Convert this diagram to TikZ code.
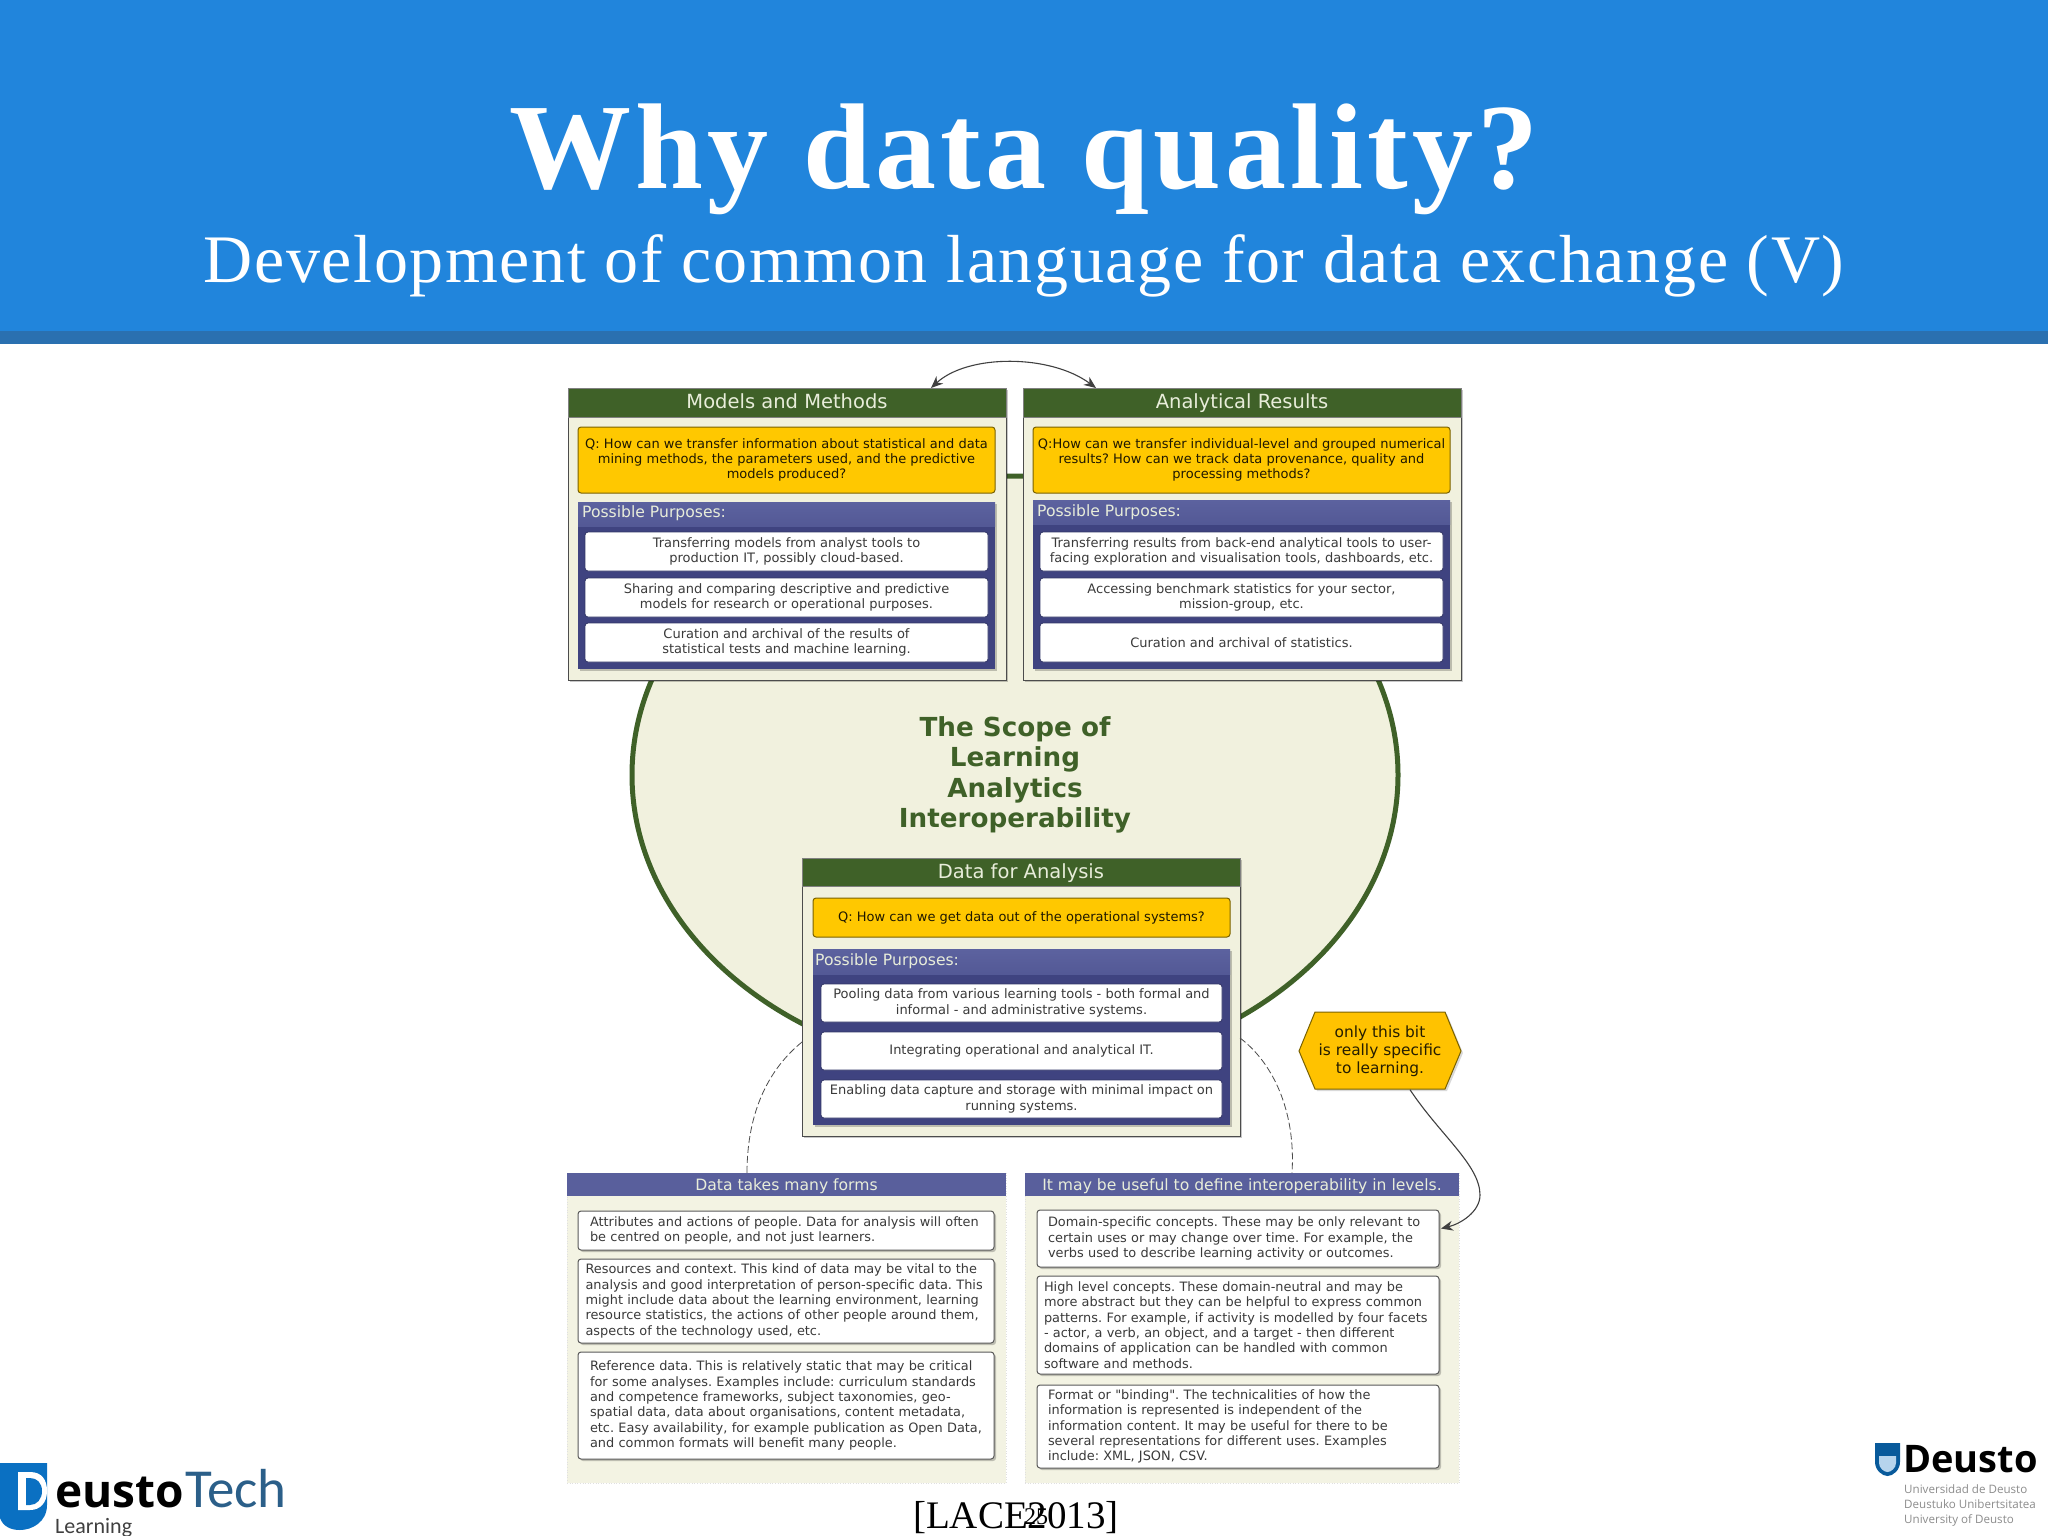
\documentclass[tikz,border=0pt]{standalone}
\usepackage{fontspec}
\setmainfont{Liberation Serif}
\newfontfamily\dv{DejaVu Sans}
\newfontfamily\ttl{Liberation Serif}[LetterSpace=3.5]
\newfontfamily\sbt{Liberation Serif}[LetterSpace=2.4]
\newfontfamily\logo{Open Sans}
\newfontfamily\logoc{Carlito}
\usetikzlibrary{calc,shadows,arrows.meta,shapes.geometric}
\definecolor{band}{HTML}{2185DC}
\definecolor{bandd}{HTML}{2A70B0}
\definecolor{cream}{HTML}{F1F1DE}
\definecolor{leaf}{HTML}{3F6128}
\definecolor{gold}{HTML}{FFC800}
\definecolor{goldd}{HTML}{7A6200}
\definecolor{pur}{HTML}{3F4380}
\definecolor{purl}{HTML}{5C629F}
\definecolor{pale}{HTML}{E8EDDA}
\definecolor{ink}{HTML}{3A3A3A}
\definecolor{lgb}{HTML}{0A70C2}
\tikzset{
 softshadow/.style={drop shadow={shadow xshift=2pt,shadow yshift=-2pt,fill=black,opacity=.22}},
 panelbox/.style={fill=cream,draw=black!70,line width=.8pt,softshadow},
 headbox/.style={fill=leaf,draw=black!50,line width=.6pt,text=pale,text height=15pt,text depth=3pt,font=\dv\fontsize{19.5}{22}\selectfont},
 qbox/.style={fill=gold,draw=goldd,line width=1pt,rounded corners=3pt,text=black!75!goldd,align=center,font=\dv\fontsize{13}{15.2}\selectfont},
 purbox/.style={fill=pur,softshadow},
 purhead/.style={top color=purl,bottom color=purl!70!pur},
 purlabel/.style={text=pale,anchor=west,inner sep=0pt,font=\dv\fontsize{15.6}{17}\selectfont},
 whbox/.style={fill=white,draw=pur!80!black,line width=.8pt,rounded corners=3pt,text=ink,align=center,font=\dv\fontsize{13}{15.2}\selectfont},
 notebox/.style={fill=white,draw=black!65,line width=1pt,rounded corners=3pt,text=ink,font=\dv\fontsize{12.9}{15.3}\selectfont,softshadow},
 softpanel/.style={fill=cream!85!white,draw=black!12,dotted,line width=.6pt},
 softhead/.style={fill=purl!90!pur,text=pale,text height=13pt,text depth=2pt,font=\dv\fontsize{15.6}{17}\selectfont},
 link/.style={draw=black!75,line width=1.1pt},
 dashlink/.style={draw=black!70,line width=.8pt,dash pattern=on 7pt off 3pt},
}
\newcommand{\tbox}[7]{%
 \pgfmathsetmacro\tbw{#5-#3}\pgfmathsetmacro\tbh{#6-#4}%
 \pgfmathsetmacro\tbx{(#3+#5)/2}\pgfmathsetmacro\tby{(#4+#6)/2}%
 \node[inner sep=0pt,outer sep=0pt,minimum width=\tbw pt,minimum height=\tbh pt,#2] (#1) at (\tbx,\tby) {#7};}
\newcommand{\plab}[3]{\node[purlabel] (#1) at (#2,#3) {Possible Purposes:};}
\begin{document}
\frenchspacing
\begin{tikzpicture}[x=1pt,y=-1pt]
\useasboundingbox (0,0) rectangle (2048,1536);
\fill[white] (0,0) rectangle (2048,1536);
% banner
\tbox{banner}{fill=band}{0}{0}{2048}{331}{}
\tbox{bandline}{fill=bandd}{0}{331}{2048}{344}{}
\node[text=white,inner sep=0pt,anchor=base] (title) at (1024,188) {\ttl\bfseries\fontsize{122}{130}\selectfont Why data quality?};
\node[text=white,inner sep=0pt,anchor=base] (subtitle) at (1024,282) {\sbt\fontsize{68}{74}\selectfont Development of common language for data exchange (V)};
% scope ellipse
\node[draw=leaf,fill=cream,line width=5pt,shape=ellipse,inner sep=0pt,minimum width=766pt,minimum height=598pt] (scope) at (1015,775) {};
\node[align=center,text=leaf,inner sep=0pt,font=\dv\bfseries\fontsize{26.2}{30.3}\selectfont] (scopetext) at (1015,775) {The Scope of\\Learning\\Analytics\\Interoperability};
% Models and Methods
\tbox{mm}{panelbox}{568}{388}{1006}{680}{}
\tbox{mmh}{headbox}{568}{388}{1006}{417}{Models and Methods}
\tbox{mmq}{qbox}{578}{427}{995}{493}{Q: How can we transfer information about statistical and data\\mining methods, the parameters used, and the predictive\\models produced?}
\tbox{mmp}{purbox}{578}{502}{995}{669}{}
\tbox{mmph}{purhead}{578}{502}{995}{526}{}
\plab{mml}{582}{513}
\tbox{mm1}{whbox}{585}{532}{988}{571}{Transferring models from analyst tools to\\production IT, possibly cloud-based.}
\tbox{mm2}{whbox}{585}{578}{988}{617}{Sharing and comparing descriptive and predictive\\models for research or operational purposes.}
\tbox{mm3}{whbox}{585}{623}{988}{662}{Curation and archival of the results of\\statistical tests and machine learning.}
% Analytical Results
\tbox{ar}{panelbox}{1023}{388}{1461}{680}{}
\tbox{arh}{headbox}{1023}{388}{1461}{417}{Analytical Results}
\tbox{arq}{qbox}{1033}{427}{1450}{493}{Q:How can we transfer individual-level and grouped numerical\\results? How can we track data provenance, quality and\\processing methods?}
\tbox{arp}{purbox}{1033}{500}{1450}{669}{}
\tbox{arph}{purhead}{1033}{500}{1450}{524}{}
\plab{arl}{1037}{512}
\tbox{ar1}{whbox}{1040}{532}{1443}{571}{Transferring results from back-end analytical tools to user-\\facing exploration and visualisation tools, dashboards, etc.}
\tbox{ar2}{whbox}{1040}{578}{1443}{617}{Accessing benchmark statistics for your sector,\\mission-group, etc.}
\tbox{ar3}{whbox}{1040}{623}{1443}{662}{Curation and archival of statistics.}
% Data for Analysis
\tbox{da}{panelbox}{802}{858}{1240}{1136}{}
\tbox{dah}{headbox}{802}{858}{1240}{886}{Data for Analysis}
\tbox{daq}{qbox}{813}{898}{1230}{937}{Q: How can we get data out of the operational systems?}
\tbox{dap}{purbox}{813}{949}{1230}{1125}{}
\tbox{daph}{purhead}{813}{949}{1230}{974}{}
\plab{dal}{815}{961}
\tbox{da1}{whbox}{821}{984}{1222}{1022}{Pooling data from various learning tools - both formal and\\informal - and administrative systems.}
\tbox{da2}{whbox}{821}{1032}{1222}{1070}{Integrating operational and analytical IT.}
\tbox{da3}{whbox}{821}{1080}{1222}{1118}{Enabling data capture and storage with minimal impact on\\running systems.}
% Bottom panels
\tbox{pl}{softpanel}{567}{1173}{1006}{1483}{}
\tbox{plh}{softhead}{567}{1173}{1006}{1196}{Data takes many forms}
\tbox{pl1}{notebox,text width=\tbw pt-24pt,align=left}{578}{1211}{994}{1250}{Attributes and actions of people. Data for analysis will often\\be centred on people, and not just learners.}
\tbox{pl2}{notebox,text width=\tbw pt-15pt,align=left}{578}{1259}{994}{1343}{Resources and context. This kind of data may be vital to the\\analysis and good interpretation of person-specific data. This\\might include data about the learning environment, learning\\resource statistics, the actions of other people around them,\\aspects of the technology used, etc.}
\tbox{pl3}{notebox,text width=\tbw pt-24pt,align=left}{578}{1352}{994}{1459}{Reference data. This is relatively static that may be critical\\for some analyses. Examples include: curriculum standards\\and competence frameworks, subject taxonomies, geo-\\spatial data, data about organisations, content metadata,\\etc. Easy availability, for example publication as Open Data,\\and common formats will benefit many people.}
\tbox{pr}{softpanel}{1025}{1173}{1459}{1483}{}
\tbox{prh}{softhead}{1025}{1173}{1459}{1196}{It may be useful to define interoperability in levels.}
\tbox{pr1}{notebox,text width=\tbw pt-22pt,align=left}{1037}{1210}{1439}{1267}{Domain-specific concepts. These may be only relevant to\\certain uses or may change over time. For example, the\\verbs used to describe learning activity or outcomes.}
\tbox{pr2}{notebox,text width=\tbw pt-14pt,align=left}{1037}{1276}{1439}{1374}{High level concepts. These domain-neutral and may be\\more abstract but they can be helpful to express common\\patterns. For example, if activity is modelled by four facets\\- actor, a verb, an object, and a target - then different\\domains of application can be handled with common\\software and methods.}
\tbox{pr3}{notebox,text width=\tbw pt-22pt,align=left}{1037}{1385}{1439}{1468}{Format or "binding". The technicalities of how the\\information is represented is independent of the\\information content. It may be useful for there to be\\several representations for different uses. Examples\\include: XML, JSON, CSV.}
% Hexagon note
\fill[black,opacity=.15] (1317,1014)--(1447,1014)--(1463,1053)--(1447,1091)--(1317,1091)--(1301,1053)--cycle;
\filldraw[fill=gold!92!orange,draw=goldd,line width=1pt] (1315,1012)--(1445,1012)--(1461,1051)--(1445,1089)--(1315,1089)--(1299,1051)--cycle;
\node[align=center,inner sep=0pt,text=black!70!goldd,font=\dv\fontsize{15.4}{18.2}\selectfont,minimum width=162pt,minimum height=77pt] (hx) at (1380,1051) {only this bit\\is really specific\\to learning.};
% connectors
\draw[link,{Stealth[length=12pt,width=10pt]}-{Stealth[length=12pt,width=10pt]}] ($(mm.north east)+(-75,0)$) .. controls (968,354) and (1050,354) .. ($(ar.north west)+(73,0)$);
\draw[dashlink] (da.west |- 0,1042) .. controls (770,1068) and (747,1110) .. ($(pl.north)+(-39.5,0)$);
\draw[dashlink] (da.east |- 0,1038) .. controls (1272,1062) and (1296,1110) .. ($(pr.north)+(50,0)$);
\draw[link,-{Stealth[length=12pt,width=10pt]}] ($(hx.south)+(30,0)$) .. controls (1440,1135) and (1480,1165) .. (1480,1195) .. controls (1480,1212) and (1460,1224) .. ($(pr1.east)+(2,-10)$);
% citation
\node[anchor=base,inner sep=0pt,font=\fontsize{39}{40}\selectfont] (cite) at (1016,1528) {[LACE2013]};
\node[anchor=base,inner sep=0pt,font=\fontsize{24}{26}\selectfont] (pagenum) at (1036,1524) {25};
% DeustoTech logo
\fill[lgb] (0,1463)--(47,1463)--(47,1505) .. controls (47,1522) and (32,1530) .. (20,1530) .. controls (10,1530) and (3,1526) .. (0,1518)--cycle;
\fill[white] (18,1472)--(30,1472) .. controls (42,1472) and (47,1480) .. (47,1491) .. controls (47,1503) and (40,1510) .. (30,1510)--(18,1510)--cycle;
\fill[lgb] (26,1478)--(30,1478) .. controls (37,1478) and (42,1483) .. (42,1491) .. controls (42,1499) and (37,1505) .. (30,1505)--(26,1505)--cycle;
\node[anchor=base west,inner sep=0pt,font=\logo\bfseries\fontsize{46}{50}\selectfont] (eusto) at (55,1507) {eusto};
\node[anchor=base west,inner sep=0pt,text=lgb!60!black!85,font=\logoc\fontsize{55}{58}\selectfont] (tech) at (185,1507) {Tech};
\node[anchor=base west,inner sep=0pt,text=black!75,font=\logoc\fontsize{22}{24}\selectfont] (learn) at (55,1533) {Learning};
% Deusto logo
\fill[lgb!80!black] (1875,1443)--(1900,1443)--(1900,1462) .. controls (1900,1470) and (1893,1476) .. (1887.5,1476) .. controls (1882,1476) and (1875,1470) .. (1875,1462)--cycle;
\fill[white!70!lgb] (1879,1456)--(1896,1456)--(1896,1463) .. controls (1896,1468) and (1891,1472) .. (1887.5,1472) .. controls (1884,1472) and (1879,1468) .. (1879,1463)--cycle;
\node[anchor=base west,inner sep=0pt,font=\logo\bfseries\fontsize{38}{40}\selectfont] (deusto) at (1903,1472) {Deusto};
\node[anchor=west,inner sep=0pt,align=left,text=black!45,font=\logo\fontsize{11.6}{15}\selectfont] (deustolines) at (1904,1505) {Universidad de Deusto\\Deustuko Unibertsitatea\\University of Deusto};
\end{tikzpicture}
\end{document}
